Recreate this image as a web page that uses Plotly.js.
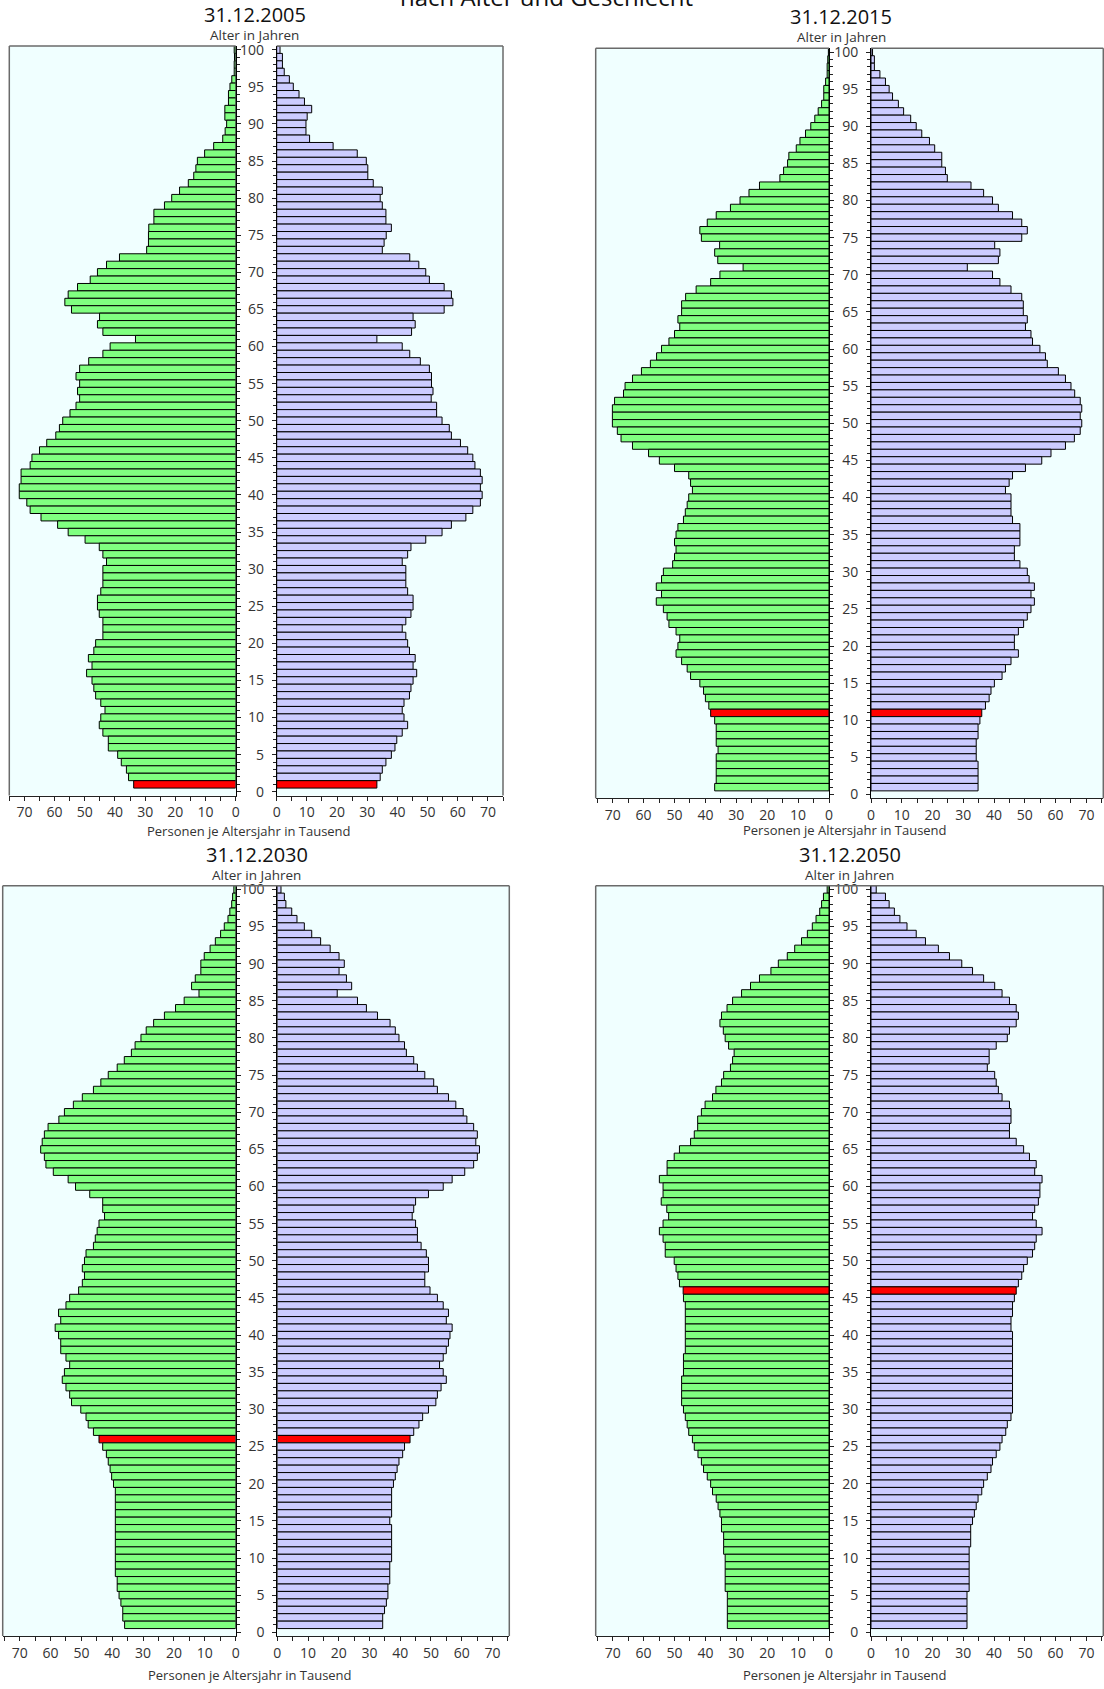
<!DOCTYPE html>
<html><head><meta charset="utf-8">
<script src="https://cdn.plot.ly/plotly-3.0.1.min.js"></script>
<style>html,body{margin:0;padding:0;background:#fff}#chart{width:1104px;height:1689px}</style>
</head><body><div id="chart"></div>
<script>
const ages = [100,99,98,97,96,95,94,93,92,91,90,89,88,87,86,85,84,83,82,81,80,79,78,77,76,75,74,73,72,71,70,69,68,67,66,65,64,63,62,61,60,59,58,57,56,55,54,53,52,51,50,49,48,47,46,45,44,43,42,41,40,39,38,37,36,35,34,33,32,31,30,29,28,27,26,25,24,23,22,21,20,19,18,17,16,15,14,13,12,11,10,9,8,7,6,5,4,3,2,1];

const male2005 = [0.5,0.4,0.5,0.5,1.3,1.9,2.4,2.4,3.6,3.6, 3.0,3.5,4.3,7.3,10.3,12.7,13.2,13.9,15.7,18.6, 21.2,23.6,27.1,27.1,28.8,28.9,28.9,29.5,38.5,42.8, 45.8,48.2,52.4,55.5,56.6,54.4,45.1,45.8,44.0,33.2, 41.6,44.0,48.7,51.7,52.9,51.7,52.4,51.7,52.9,54.9, 57.3,58.4,59.6,62.6,65.0,67.5,68.1,71.1,71.1,71.7, 71.7,69.2,68.1,64.5,59.0,55.5,49.9,45.2,44.0,42.8, 44.0,44.0,44.0,44.7,45.8,45.8,45.2,44.0,44.0,44.0, 46.4,47.0,48.8,47.6,49.4,47.6,47.0,46.4,44.7,43.3, 44.7,45.2,44.0,42.2,42.2,39.1,37.9,36.2,35.5,33.8];
const female2005 = [1.1,1.9,1.9,2.5,4.2,5.5,7.4,9.2,11.6,10.1, 9.7,9.7,10.9,18.7,26.7,29.7,30.2,30.2,32.0,35.0, 34.3,35.0,36.2,36.2,38.0,36.3,35.6,35.0,44.1,47.1, 49.4,50.6,55.5,57.9,58.4,55.5,45.2,45.9,44.7,33.2, 41.6,44.1,47.6,50.6,51.3,51.3,51.8,51.2,53.0,53.0, 54.8,57.2,57.9,60.9,63.3,65.0,65.7,67.5,68.1,67.5, 68.1,67.5,65.0,62.7,57.9,54.8,49.4,44.5,43.4,41.6, 42.8,42.8,42.8,43.4,45.2,45.2,44.5,42.8,41.6,42.8, 43.4,44.0,45.9,45.2,46.4,45.2,44.5,44.0,42.2,41.6, 42.2,43.4,41.6,39.8,39.2,38.0,36.2,35.0,34.3,33.2];

const male2015 = [0.2,0.4,0.6,0.6,1.1,1.7,1.7,2.4,3.5,4.6, 5.9,7.6,9.4,10.6,13.0,13.4,14.7,15.9,22.5,25.9, 28.8,31.9,36.5,39.4,41.8,41.3,35.4,37.0,36.0,27.8, 35.3,38.3,43.0,46.4,47.7,47.7,48.9,48.3,50.0,51.8, 54.2,55.8,57.8,60.7,63.6,66.0,66.5,69.4,70.1,70.1, 70.1,68.5,67.3,63.6,58.4,54.9,50.0,45.4,44.8,44.2, 45.4,45.9,46.5,47.1,48.9,49.5,50.0,49.5,50.0,50.6, 53.6,54.2,55.9,54.2,55.9,53.6,52.4,51.8,49.5,48.3, 48.9,49.5,47.7,45.9,44.8,41.8,40.6,40.0,38.9,38.3, 37.0,36.5,36.5,36.5,35.9,36.5,36.5,36.5,36.5,37.0];
const female2015 = [0.5,1.1,1.1,2.9,4.7,5.9,7.0,8.9,10.6,12.9, 14.7,16.5,19.0,20.7,23.0,23.0,24.2,24.8,32.5,36.6, 39.5,41.4,46.0,49.0,50.8,49.0,40.2,41.9,41.4,31.3, 39.5,41.9,45.5,49.0,49.5,49.5,50.8,50.2,52.0,52.5, 54.9,56.7,57.3,60.9,63.2,65.0,66.2,68.0,68.5,68.0, 68.5,68.0,66.1,63.2,58.5,55.5,50.2,46.0,44.9,43.7, 45.5,45.5,45.5,46.0,48.4,48.4,48.4,46.6,46.6,48.4, 50.8,51.4,53.1,52.0,53.1,52.0,50.8,49.6,47.9,46.6, 46.6,47.9,45.5,43.7,42.6,40.1,39.0,38.4,37.2,36.0, 35.4,34.8,34.8,34.2,34.2,34.2,34.8,34.8,34.8,34.8];

const male2030 = [0.6,1.0,1.3,1.9,2.5,3.7,4.9,6.6,8.3,10.2, 11.3,11.3,13.1,14.3,11.9,16.7,19.5,23.1,26.6,29.0, 30.7,32.6,33.8,36.1,38.4,41.3,43.7,46.1,49.7,52.6, 55.5,57.3,60.8,62.0,62.7,63.2,62.0,61.5,59.1,54.3, 51.9,47.3,43.1,43.1,42.5,44.3,44.9,45.5,46.1,48.5, 49.0,49.7,49.0,49.7,50.9,53.8,55.0,57.4,56.7,58.5, 57.4,56.7,56.7,55.0,53.8,55.5,56.2,55.0,53.8,53.2, 50.2,48.5,47.8,46.1,44.3,43.1,41.9,41.3,40.7,40.2, 39.6,39.0,39.0,39.0,39.0,39.0,39.0,39.0,39.0,39.0, 39.0,39.0,39.0,38.4,38.4,37.8,37.2,36.6,36.6,36.0];
const female2030 = [1.2,2.3,2.8,4.7,6.4,8.8,11.2,14.1,17.2,20.1, 21.8,20.1,22.5,24.2,19.5,26.1,29.0,32.6,36.7,38.4, 39.6,41.4,42.0,44.4,45.6,48.0,50.9,52.1,55.7,58.1, 60.5,61.7,63.9,65.1,64.6,65.8,65.1,63.9,61.0,56.9, 54.0,49.2,45.0,44.4,43.9,45.0,45.6,45.6,46.8,48.5, 49.2,49.2,48.0,48.0,49.7,52.1,54.0,55.7,55.0,56.9, 56.2,55.7,55.0,54.0,52.8,54.0,55.0,53.3,52.1,51.6, 49.2,47.3,46.1,44.4,43.2,41.4,40.8,39.6,39.0,38.4, 37.8,37.2,37.2,37.2,37.2,36.6,37.2,37.2,37.2,37.2, 37.2,36.6,36.6,36.6,36.0,36.0,35.5,34.9,34.3,34.3];

const male2050 = [0.6,1.8,2.4,3.0,4.2,5.4,7.0,8.9,11.1,13.5, 16.4,18.8,22.5,25.4,28.3,31.2,33.0,34.8,35.3,34.2, 33.6,32.5,30.7,31.2,31.9,34.1,34.8,36.6,37.7,40.1, 41.3,42.5,42.5,43.6,44.8,48.4,50.1,52.4,52.4,54.9, 53.7,53.7,54.3,52.5,51.9,53.7,54.9,53.7,53.0,53.0, 50.1,49.5,48.9,48.4,47.2,47.1,46.5,46.5,46.5,46.5, 46.5,46.5,46.5,47.1,47.1,47.1,47.7,47.7,47.7,47.7, 47.1,46.5,45.9,45.4,44.2,43.6,42.4,41.3,40.6,39.4, 38.3,37.7,36.5,35.9,35.3,34.8,34.8,34.1,34.1,34.1, 33.6,33.6,33.6,33.6,33.6,32.9,32.9,32.9,32.9,32.9];
const female2050 = [1.7,4.7,5.9,7.6,9.4,11.7,14.7,17.7,21.9,25.5, 29.5,33.0,36.6,40.2,42.6,45.0,47.2,47.9,47.2,45.0, 44.3,40.7,38.4,38.4,37.8,40.2,40.7,41.4,42.6,45.0, 45.5,45.5,45.0,45.0,47.2,49.6,51.5,53.7,53.2,55.6, 54.9,54.9,54.4,53.2,52.5,53.7,55.6,53.7,53.2,52.5, 50.8,49.6,49.0,47.9,47.2,46.6,46.0,46.0,45.5,45.5, 46.0,46.0,46.0,46.0,46.0,46.0,46.0,46.0,46.0,46.0, 46.0,45.5,44.3,43.8,42.6,41.9,40.7,39.5,39.0,37.8, 36.6,36.0,34.8,34.2,33.6,33.0,32.4,32.4,32.4,31.9, 31.9,31.9,31.9,31.9,31.9,31.2,31.2,31.2,31.2,31.2];

const ageTicks = [0,5,10,15,20,25,30,35,40,45,50,55,60,65,70,75,80,85,90,95,100];
const valueTicks = [0,10,20,30,40,50,60,70];
const cohortBirthYear = 2004;
const mainTitle = "nach Alter und Geschlecht";
const ageTitle = "Alter in Jahren";
const valueTitle = "Personen je Altersjahr in Tausend";

const W = 1104, H = 1689;
const GREEN = '#80FF80', PURPLE = '#CCCCFF', RED = '#FF0000', BG = '#F0FFFF';
const FONT = '"Open Sans", "Noto Sans", sans-serif';

const panels = [
  {year:2005, male:male2005, female:female2005, xL:[9.3,235.7], xR:[276.7,503], y:[46,795.5], xmax:75, title:[255,14.5], sub:[254.5,34.5], xt:[248.5,831], contTop:false},
  {year:2015, male:male2015, female:female2015, xL:[595.7,829], xR:[871,1103.3], y:[48.3,798.3], xmax:75.5, title:[841,16.8], sub:[841.5,36.8], xt:[845,830], contTop:false},
  {year:2030, male:male2030, female:female2030, xL:[2.7,235.7], xR:[277.3,509.3], y:[885.7,1636], xmax:75.5, title:[256.5,854], sub:[256.7,874.5], xt:[250,1675], contTop:true},
  {year:2050, male:male2050, female:female2050, xL:[595.7,829], xR:[871,1103.3], y:[885.7,1636], xmax:75.5, title:[849.5,854], sub:[849.5,874.5], xt:[845,1675], contTop:true}
];

const px = v => v / W;
const py = v => 1 - v / H;
const sfx = n => n === 1 ? '' : String(n);

const traces = [];
const layout = {
  width: W, height: H, autosize: false,
  margin: {l:0, r:0, t:0, b:0, pad:0},
  paper_bgcolor: '#FFFFFF', plot_bgcolor: BG,
  showlegend: false, bargap: 0,
  font: {family: FONT, color: '#333'},
  shapes: [], annotations: []
};

const GRAY = '#6a6a6a';
function line(x0, y0, x1, y1) {
  layout.shapes.push({type:'line', xref:'paper', yref:'paper', x0:px(x0), y0:py(y0), x1:px(x1), y1:py(y1), line:{color:GRAY, width:1.5}, layer:'above'});
}
function note(text, x, y, size, color) {
  layout.annotations.push({text, xref:'paper', yref:'paper', x:px(x), y:py(y), xanchor:'center', yanchor:'middle', showarrow:false, borderpad:0, font:{family:FONT, size, color}});
}

panels.forEach((p, i) => {
  const li = 2*i + 1, ri = 2*i + 2;
  const hi = p.year - cohortBirthYear;
  const yDom = [py(p.y[1]), py(p.y[0])];
  const xCommon = {
    ticks:'outside', ticklen:4, tickcolor:'#222', tickwidth:1,
    showline:true, linecolor:'#222', linewidth:1,
    showgrid:false, zeroline:false, tickmode:'array', tickvals:valueTicks,
    minor:{tickmode:'linear', tick0:0, dtick:5, ticks:'outside', ticklen:4, tickcolor:'#222', showgrid:false},
    tickfont:{family:FONT, size:14, color:'#333'}, fixedrange:true
  };
  const yCommon = {
    domain:yDom, range:[-0.5,100.5], showline:true, linecolor:'#000', linewidth:1,
    ticks:'outside', ticklen:4, tickcolor:'#222', tickmode:'array', tickvals:ageTicks,
    minor:{tickmode:'linear', tick0:0, dtick:1, ticks:'outside', ticklen:3, tickcolor:'#222', showgrid:false},
    showgrid:false, zeroline:false, fixedrange:true
  };
  layout['xaxis'+sfx(li)] = Object.assign({}, xCommon, {domain:[px(p.xL[0]), px(p.xL[1])], range:[p.xmax, 0], anchor:'y'+sfx(li)});
  layout['xaxis'+sfx(ri)] = Object.assign({}, xCommon, {domain:[px(p.xR[0]), px(p.xR[1])], range:[0, p.xmax], anchor:'y'+sfx(ri)});
  layout['yaxis'+sfx(li)] = Object.assign({}, yCommon, {anchor:'x'+sfx(li), side:'right', showticklabels:false});
  layout['yaxis'+sfx(ri)] = Object.assign({}, yCommon, {anchor:'x'+sfx(ri), side:'left', showticklabels:true, ticklabelstandoff:5,
    tickfont:{family:FONT, size:14, color:'#333'}});

  traces.push({type:'bar', orientation:'h', y:ages, x:p.male, width:1,
    xaxis:'x'+sfx(li), yaxis:'y'+sfx(li),
    marker:{color:ages.map(a => a === hi ? RED : GREEN), line:{color:'#000', width:1}},
    hoverinfo:'skip', name:'Männer ' + p.year});
  traces.push({type:'bar', orientation:'h', y:ages, x:p.female, width:1,
    xaxis:'x'+sfx(ri), yaxis:'y'+sfx(ri),
    marker:{color:ages.map(a => a === hi ? RED : PURPLE), line:{color:'#000', width:1}},
    hoverinfo:'skip', name:'Frauen ' + p.year});

  line(p.xL[0], p.y[1], p.xL[0], p.y[0]);
  line(p.xR[1], p.y[1], p.xR[1], p.y[0]);
  if (p.contTop) {
    line(p.xL[0], p.y[0], p.xR[1], p.y[0]);
  } else {
    line(p.xL[0], p.y[0], p.xL[1], p.y[0]);
    line(p.xR[0], p.y[0], p.xR[1], p.y[0]);
  }

  note('31.12.' + p.year, p.title[0], p.title[1], 20, '#111');
  note(ageTitle, p.sub[0], p.sub[1], 13.5, '#333');
  note(valueTitle, p.xt[0], p.xt[1], 13, '#333');
});

layout.annotations.push({text:mainTitle, xref:'paper', yref:'paper', x:px(546), y:py(15), xanchor:'center', yanchor:'bottom',
  showarrow:false, font:{family:FONT, size:24, color:'#111'}});

Plotly.newPlot('chart', traces, layout, {displayModeBar:false, staticPlot:true});
</script>
</body></html>
